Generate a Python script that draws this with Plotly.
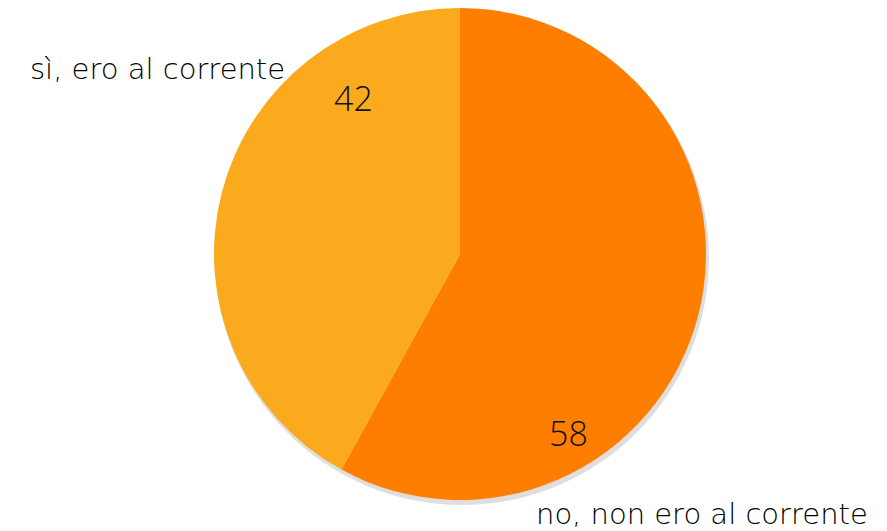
import plotly.graph_objects as go

labels = ["no, non ero al corrente", "sì, ero al corrente"]
values = [58, 42]
colors = ["#FF7E00", "#FBAA1E"]

W, H = 887, 531
OFF = 8  # page body margin


def px(x, y):
    # screen pixel coords -> paper coords
    return (x - OFF) / W, 1 - (y - OFF) / H


def dom(x0, y0, x1, y1):
    a, b = px(x0, y1)
    c, d = px(x1, y0)
    return dict(x=[a, c], y=[b, d])


fig = go.Figure()

# soft shadow under the pie
fig.add_trace(go.Pie(
    values=[sum(values)], marker=dict(colors=["rgba(0,0,0,0.13)"], line=dict(width=0)),
    textinfo="none", hoverinfo="skip", showlegend=False, sort=False,
    domain=dom(215, 11, 709, 505),
))

fig.add_trace(go.Pie(
    labels=labels, values=values, sort=False, direction="clockwise", rotation=0,
    marker=dict(colors=colors, line=dict(width=0)),
    textinfo="none", showlegend=False,
    domain=dom(214, 8, 706, 500),
))

annos = []
# value labels
for v, (x, y) in zip(values, [(568, 433), (353, 98)]):
    ax, ay = px(x, y)
    annos.append(dict(x=ax, y=ay, text=str(v), showarrow=False, xref="paper", yref="paper",
                      xanchor="center", yanchor="middle",
                      font=dict(family="Open Sans", size=34, weight=300, color="#111111")))
# category labels
for lab, (x, y) in zip(labels, [(870, 514), (287, 69)]):
    ax, ay = px(x, y)
    annos.append(dict(x=ax, y=ay, text=lab, showarrow=False, xref="paper", yref="paper",
                      xanchor="right", yanchor="middle",
                      font=dict(family="DejaVu Sans", size=29, weight=200, color="#000000")))

fig.update_layout(
    width=W, height=H, margin=dict(l=0, r=0, t=0, b=0),
    paper_bgcolor="white", plot_bgcolor="white", annotations=annos,
)

fig.write_html("out.html")
